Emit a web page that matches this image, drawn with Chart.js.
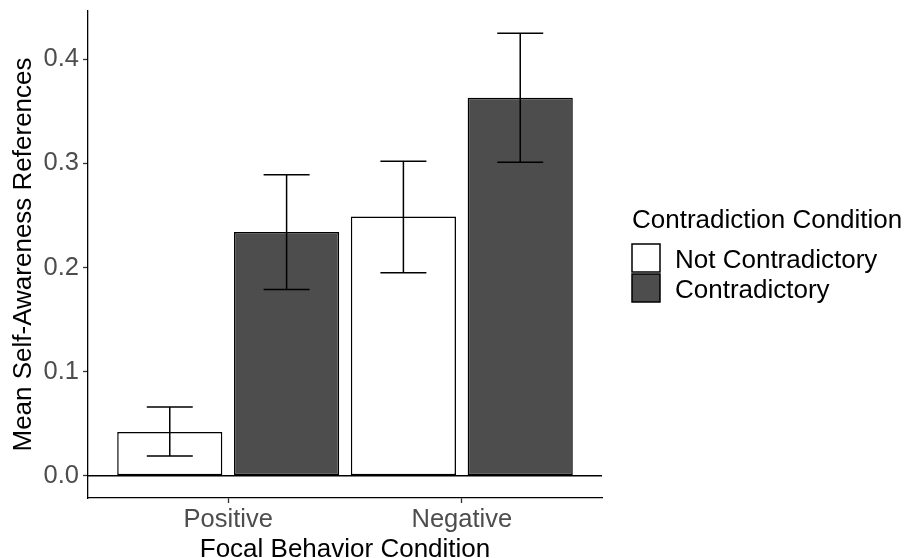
<!DOCTYPE html>
<html>
<head>
<meta charset="utf-8">
<script src="https://cdn.jsdelivr.net/npm/chart.js@4.4.0/dist/chart.umd.min.js"></script>
<style>
    html, body { margin: 0; padding: 0; background: #ffffff; }
    canvas { display: block; }
</style>
</head>
<body>
<canvas id="graficoBarras" width="904" height="558"></canvas>
<script>
const categories = ["Positive", "Negative"];
const seriesNames = ["Not Contradictory", "Contradictory"];
const notContradictoryMeans = [0.042, 0.249];
const contradictoryMeans = [0.234, 0.363];
const notContradictoryLow = [0.019, 0.195];
const notContradictoryHigh = [0.066, 0.302];
const contradictoryLow = [0.179, 0.301];
const contradictoryHigh = [0.289, 0.425];
const yTicks = [0.0, 0.1, 0.2, 0.3, 0.4];
const fillColors = ["#ffffff", "#4d4d4d"];

const FONT = "'Liberation Sans', Arial, Helvetica, sans-serif";
const TITLE_SIZE = 26;
const TICK_SIZE = 25.5;

// categories are placed at 1, 2 ... on a linear axis so the ggplot-style padding can be reproduced
const toPoints = vals => vals.map((v, i) => ({ x: i + 1, y: v }));

const errorBars = {
    id: "errorBars",
    afterDatasetsDraw(chart) {
        const { ctx, chartArea, scales: { y } } = chart;
        ctx.save();
        ctx.strokeStyle = "#000000";
        ctx.lineWidth = 1.5;

        // horizontal line at zero
        const y0 = y.getPixelForValue(0);
        ctx.beginPath();
        ctx.moveTo(chartArea.left, y0);
        ctx.lineTo(chartArea.right, y0);
        ctx.stroke();

        chart.data.datasets.forEach((ds, di) => {
            const meta = chart.getDatasetMeta(di);
            meta.data.forEach((bar, i) => {
                const top = y.getPixelForValue(ds.errHigh[i]);
                const bottom = y.getPixelForValue(ds.errLow[i]);
                const half = 23;
                ctx.beginPath();
                ctx.moveTo(bar.x, top);
                ctx.lineTo(bar.x, bottom);
                ctx.moveTo(bar.x - half, top);
                ctx.lineTo(bar.x + half, top);
                ctx.moveTo(bar.x - half, bottom);
                ctx.lineTo(bar.x + half, bottom);
                ctx.stroke();
            });
        });
        ctx.restore();
    }
};

const sideLegend = {
    id: "sideLegend",
    afterDraw(chart) {
        const ctx = chart.ctx;
        const left = 632;
        ctx.save();
        ctx.font = TITLE_SIZE + "px " + FONT;
        ctx.fillStyle = "#000000";
        ctx.textBaseline = "middle";
        ctx.textAlign = "left";
        ctx.fillText("Contradiction Condition", left, 221);

        chart.data.datasets.forEach((ds, i) => {
            const boxTop = 244 + i * 30;
            ctx.fillStyle = ds.backgroundColor;
            ctx.fillRect(left, boxTop, 28, 28);
            ctx.strokeStyle = "#000000";
            ctx.lineWidth = 1.5;
            ctx.strokeRect(left, boxTop, 28, 28);
            ctx.fillStyle = "#000000";
            ctx.fillText(ds.label, 675, boxTop + 17);
        });
        ctx.restore();
    }
};

const ctx = document.getElementById("graficoBarras").getContext("2d");

new Chart(ctx, {
    type: "bar",
    data: {
        datasets: [
            {
                label: seriesNames[0],
                data: toPoints(notContradictoryMeans),
                errLow: notContradictoryLow,
                errHigh: notContradictoryHigh,
                backgroundColor: fillColors[0],
                borderColor: "#000000",
                borderWidth: 1.5,
                borderSkipped: false
            },
            {
                label: seriesNames[1],
                data: toPoints(contradictoryMeans),
                errLow: contradictoryLow,
                errHigh: contradictoryHigh,
                backgroundColor: fillColors[1],
                borderColor: "#000000",
                borderWidth: 1.5,
                borderSkipped: false
            }
        ]
    },
    options: {
        responsive: false,
        animation: false,
        devicePixelRatio: 1,
        categoryPercentage: 1.0,
        barPercentage: 0.9,
        layout: { padding: { top: 11, right: 302, left: 0, bottom: 0 } },
        plugins: {
            legend: { display: false },
            tooltip: { enabled: false }
        },
        scales: {
            x: {
                type: "linear",
                min: 0.4,
                max: 2.6,
                offset: false,
                afterBuildTicks: s => { s.ticks = categories.map((c, i) => ({ value: i + 1 })); },
                afterFit: s => {
                    s.height = 60;
                    s.paddingLeft = 0;
                    s.paddingRight = 0;
                },
                ticks: {
                    autoSkip: false,
                    maxRotation: 0,
                    padding: 2,
                    color: "#4d4d4d",
                    font: { family: FONT, size: TICK_SIZE },
                    callback: (v, i) => categories[i]
                },
                grid: { display: true, drawOnChartArea: false, drawTicks: true, tickLength: 5, tickColor: "#333333", tickWidth: 1.3, offset: false },
                border: { display: true, color: "#000000", width: 1.3 },
                title: {
                    display: true,
                    text: "Focal Behavior Condition",
                    color: "#000000",
                    font: { family: FONT, size: TITLE_SIZE, lineHeight: 0.62 },
                    padding: { top: 0, bottom: 0 }
                }
            },
            y: {
                min: -0.02125,
                max: 0.44625,
                afterBuildTicks: s => { s.ticks = yTicks.map(v => ({ value: v })); },
                afterFit: s => {
                    s.width = 88;
                    s.paddingTop = 0;
                    s.paddingBottom = 0;
                },
                ticks: {
                    padding: 4,
                    color: "#4d4d4d",
                    font: { family: FONT, size: TICK_SIZE },
                    callback: v => v.toFixed(1)
                },
                grid: { display: true, drawOnChartArea: false, drawTicks: true, tickLength: 5, tickColor: "#333333", tickWidth: 1.3 },
                border: { display: true, color: "#000000", width: 1.3 },
                title: {
                    display: true,
                    text: "Mean Self-Awareness References",
                    color: "#000000",
                    font: { family: FONT, size: TITLE_SIZE },
                    padding: { top: 8, bottom: 0 }
                }
            }
        }
    },
    plugins: [errorBars, sideLegend]
});
</script>
</body>
</html>
